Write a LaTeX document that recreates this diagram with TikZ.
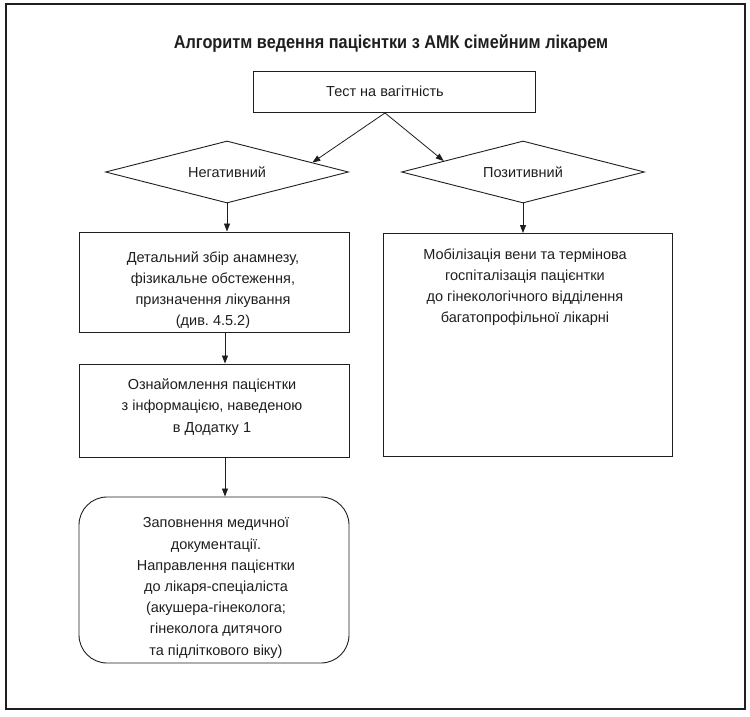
\documentclass[tikz,border=0pt]{standalone}
\usepackage{fontspec}
\setmainfont{Liberation Sans}
\newfontfamily\titlefont[FakeStretch=0.88]{Liberation Sans}
\frenchspacing
\usetikzlibrary{shapes.geometric,arrows.meta,calc}
\definecolor{ink}{HTML}{1E1E1E}
\tikzset{
  box/.style={draw=ink,line width=0.9pt,rectangle,inner sep=0pt},
  dia/.style={draw=ink,line width=0.9pt,diamond,aspect=3.9,inner sep=0pt,minimum width=243pt,minimum height=62pt,font=\fontsize{14.5}{21}\selectfont,text=ink},
  txt/.style={align=center,inner sep=0pt,font=\fontsize{14.5}{21.2}\selectfont,text=ink},
  arr/.style={draw=ink,line width=0.8pt,-{Triangle[length=8pt,width=6pt]}},
}
\begin{document}
\begin{tikzpicture}[x=1pt,y=-1pt]
\useasboundingbox (0,0) rectangle (750,717);
\node[draw=ink,line width=1.3pt,minimum width=739pt,minimum height=705pt,inner sep=0pt] (frame) at (375.5,356.5) {};
\node[txt,font=\titlefont\fontsize{18.5}{22}\bfseries] (title) at (391,44) {Алгоритм ведення пацієнтки з АМК сімейним лікарем};
% test box
\node[box,minimum width=282pt,minimum height=41pt] (test) at (394,92) {};
\node[txt] (testt) at (385,91) {Тест на вагітність};
% diamonds
\node[dia] (neg) at (227,172) {Негативний};
\node[dia] (pos) at (523,172) {Позитивний};
% left column
\node[box,minimum width=270pt,minimum height=100pt] (b1) at (214,282) {};
\node[txt] (b1t) at (213,290) {Детальний збір анамнезу,\\фізикальне обстеження,\\призначення лікування\\(див. 4.5.2)};
\node[box,minimum width=270pt,minimum height=93pt] (b2) at (214,410.5) {};
\node[txt] (b2t) at (212,407) {Ознайомлення пацієнтки\\з інформацією, наведеною\\в Додатку 1};
\node[box,rounded corners=28pt,minimum width=270pt,minimum height=166pt] (b3) at (214,580) {};
\node[txt] (b3t) at (216,588) {Заповнення медичної\\документації.\\Направлення пацієнтки\\до лікаря-спеціаліста\\(акушера-гінеколога;\\гінеколога дитячого\\та підліткового віку)};
% right column
\node[box,minimum width=289pt,minimum height=223pt] (rb) at (527.5,345) {};
\node[txt] (rbt) at (525,287) {Мобілізація вени та термінова\\госпіталізація пацієнтки\\до гінекологічного відділення\\багатопрофільної лікарні};
% connectors
\coordinate (src) at (testt |- test.south);
\draw[arr] (src) -- ($(neg.north)!0.7!(neg.east)$);
\draw[arr] (src) -- ($(pos.north)!0.65!(pos.west)$);
\draw[arr] (neg.south) -- (neg.south |- b1.north);
\draw[arr] (pos.south) -- (pos.south |- rb.north);
\coordinate (lc) at (225,0);
\draw[arr] (lc |- b1.south) -- (lc |- b2.north);
\draw[arr] (lc |- b2.south) -- (lc |- b3.north);
\end{tikzpicture}
\end{document}
